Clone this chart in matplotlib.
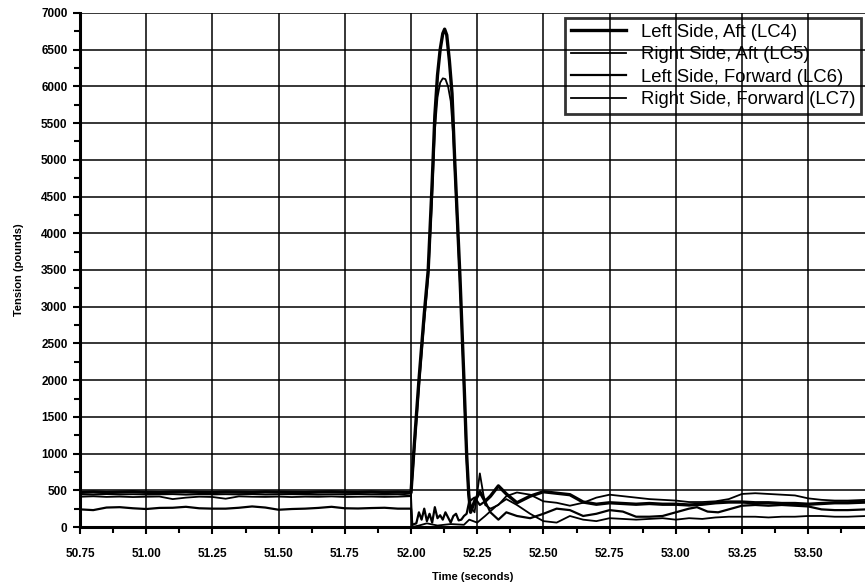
import matplotlib
matplotlib.use("Agg")
import matplotlib.pyplot as plt
from matplotlib.ticker import MultipleLocator, FixedLocator

plt.rcParams['font.family'] = ['Liberation Sans', 'DejaVu Sans']

# ---------------- data ----------------
base_t = [50.75, 50.80, 50.85, 50.90, 50.95, 51.00, 51.05, 51.10, 51.15, 51.20,
          51.25, 51.30, 51.35, 51.40, 51.45, 51.50, 51.55, 51.60, 51.65, 51.70,
          51.75, 51.80, 51.85, 51.90, 51.95]

lc4_base = [472, 478, 470, 475, 480, 472, 468, 476, 479, 472, 470, 477, 474, 471,
            478, 475, 472, 470, 476, 479, 474, 472, 477, 471, 475]
lc4_tail_t = [52.00, 52.01, 52.03, 52.05, 52.065, 52.08, 52.09, 52.10, 52.11, 52.12,
              52.127, 52.135, 52.145, 52.155, 52.165, 52.175, 52.185, 52.20, 52.21,
              52.218, 52.225, 52.24, 52.26, 52.28, 52.30, 52.33, 52.36, 52.40, 52.45,
              52.50, 52.55, 52.60, 52.65, 52.70, 52.75, 52.80, 52.85, 52.90, 52.95,
              53.00, 53.05, 53.10, 53.15, 53.20, 53.25, 53.30, 53.35, 53.40, 53.45,
              53.50, 53.55, 53.60, 53.65, 53.72]
lc4_tail_v = [470, 1000, 2000, 2900, 3500, 4700, 5600, 6150, 6500, 6720,
              6780, 6700, 6350, 5900, 5000, 4200, 3400, 2000, 1000,
              450, 200, 350, 480, 350, 420, 560, 450, 330, 420,
              480, 460, 440, 340, 310, 330, 320, 310, 320, 310,
              310, 300, 310, 330, 340, 340, 330, 330, 320, 320,
              310, 320, 330, 330, 340]

lc5_base = [412, 418, 410, 414, 408, 412, 415, 380, 400, 413, 409, 385, 417, 412,
            410, 414, 408, 413, 411, 416, 409, 412, 414, 410, 413]
lc5_tail_t = [52.00, 52.01, 52.03, 52.05, 52.065, 52.08, 52.09, 52.10, 52.11, 52.12,
              52.13, 52.14, 52.15, 52.16, 52.17, 52.18, 52.19, 52.20, 52.21, 52.22,
              52.24, 52.26, 52.28, 52.30, 52.33, 52.36, 52.40, 52.45, 52.50, 52.55,
              52.60, 52.65, 52.70, 52.75, 52.80, 52.85, 52.90, 52.95, 53.00, 53.05,
              53.10, 53.15, 53.20, 53.25, 53.30, 53.35, 53.40, 53.45, 53.50, 53.55,
              53.60, 53.65, 53.72]
lc5_tail_v = [420, 900, 1900, 2800, 3400, 4500, 5400, 5850, 6050, 6110,
              6100, 6000, 5800, 5300, 4500, 3700, 2900, 1900, 900, 300,
              200, 730, 300, 250, 300, 420, 470, 440, 350, 330,
              290, 330, 400, 440, 420, 400, 380, 370, 360, 340,
              340, 350, 380, 450, 460, 450, 440, 430, 390, 370,
              360, 360, 370]

lc6_base = [240, 230, 265, 270, 255, 245, 260, 262, 275, 255, 250, 250, 262, 280,
            265, 235, 245, 250, 260, 275, 255, 252, 258, 262, 250]
lc6_tail_t = [52.00, 52.005, 52.02, 52.03, 52.04, 52.05, 52.06, 52.07, 52.08, 52.09,
              52.10, 52.11, 52.12, 52.13, 52.14, 52.15, 52.16, 52.17, 52.18, 52.19,
              52.20, 52.21, 52.22, 52.24, 52.26, 52.28, 52.30, 52.33, 52.36, 52.40,
              52.45, 52.50, 52.55, 52.60, 52.65, 52.70, 52.75, 52.80, 52.85, 52.90,
              52.95, 53.00, 53.05, 53.08, 53.12, 53.16, 53.20, 53.25, 53.30, 53.35,
              53.40, 53.45, 53.50, 53.55, 53.60, 53.65, 53.72]
lc6_tail_v = [250, 30, 50, 200, 100, 250, 80, 180, 60, 270,
              120, 160, 100, 200, 130, 60, 150, 180, 90, 100,
              150, 180, 350, 400, 300, 350, 200, 100, 200, 150,
              120, 180, 250, 230, 150, 180, 230, 210, 140, 140,
              150, 200, 250, 270, 210, 200, 240, 290, 300, 290,
              300, 290, 280, 240, 230, 230, 240]

lc7_base = [445, 440, 448, 442, 446, 441, 444, 447, 440, 445, 443, 446, 442, 448,
            441, 444, 446, 443, 440, 445, 442, 447, 444, 441, 445]
lc7_tail_t = [52.00, 52.005, 52.03, 52.06, 52.10, 52.15, 52.20, 52.22, 52.25, 52.28,
              52.32, 52.36, 52.40, 52.45, 52.50, 52.55, 52.60, 52.65, 52.70, 52.75,
              52.80, 52.85, 52.90, 52.95, 53.00, 53.05, 53.10, 53.15, 53.20, 53.25,
              53.30, 53.35, 53.40, 53.45, 53.50, 53.55, 53.60, 53.65, 53.72]
lc7_tail_v = [430, 0, 20, 50, 20, 40, 30, 100, 60, 150,
              280, 380, 300, 180, 80, 60, 150, 100, 80, 120,
              110, 100, 110, 120, 100, 120, 110, 130, 140, 140,
              140, 130, 140, 140, 150, 150, 140, 140, 150]

labels = ["Left Side, Aft (LC4)", "Right Side, Aft (LC5)",
          "Left Side, Forward (LC6)", "Right Side, Forward (LC7)"]
x_ticks = [50.75, 51.00, 51.25, 51.50, 51.75, 52.00, 52.25, 52.50, 52.75, 53.00, 53.25, 53.50]
y_ticks = [0, 500, 1000, 1500, 2000, 2500, 3000, 3500, 4000, 4500, 5000, 5500, 6000, 6500, 7000]

# ---------------- figure ----------------
fig = plt.figure(figsize=(8.65, 5.88), dpi=100)
ax = fig.add_axes([80 / 865, 61 / 588, 785 / 865, 514 / 588])

series = [
    (base_t + lc4_tail_t, lc4_base + lc4_tail_v, 2.4),
    (base_t + lc5_tail_t, lc5_base + lc5_tail_v, 1.3),
    (base_t + lc6_tail_t, lc6_base + lc6_tail_v, 1.6),
    (base_t + lc7_tail_t, lc7_base + lc7_tail_v, 1.3),
]
for (t, v, lw), lab in zip(series, labels):
    ax.plot(t, v, color='black', lw=lw, label=lab, solid_joinstyle='round')

ax.set_xlim(50.75, 50.75 + 785 / 264.8)
ax.set_ylim(0, 7000)
ax.xaxis.set_major_locator(FixedLocator(x_ticks))
ax.set_xticklabels([f"{v:.2f}" for v in x_ticks])
ax.xaxis.set_minor_locator(MultipleLocator(0.125))
ax.yaxis.set_major_locator(FixedLocator(y_ticks))
ax.yaxis.set_minor_locator(MultipleLocator(250))

ax.grid(True, which='major', color='black', lw=1.1)
ax.set_axisbelow(True)
for s in ['top', 'right']:
    ax.spines[s].set_visible(False)
for s in ['left', 'bottom']:
    ax.spines[s].set_linewidth(2.2)

ax.tick_params(axis='both', which='major', length=5, width=1.5, labelsize=8.5, direction='out')
ax.tick_params(axis='both', which='minor', length=4, width=1.5, direction='out')
ax.tick_params(axis='x', pad=10)
ax.tick_params(axis='y', pad=4)
for lab in ax.get_xticklabels() + ax.get_yticklabels():
    lab.set_fontweight('bold')

ax.set_xlabel("Time (seconds)", fontsize=8, fontweight='bold', labelpad=9)
ax.set_ylabel("Tension (pounds)", fontsize=8, fontweight='bold', labelpad=12)

leg = ax.legend(loc='upper left', bbox_to_anchor=((565 - 80) / 785, (527 - 18) / 514),
                borderaxespad=0, fontsize=13.3, frameon=True, fancybox=False,
                handlelength=3.0, handletextpad=0.8, labelspacing=0.3, borderpad=0.3)
fr = leg.get_frame()
fr.set_facecolor('none')
fr.set_edgecolor('black')
fr.set_linewidth(2.0)

fig.savefig("out.png", dpi=100, facecolor='white')
